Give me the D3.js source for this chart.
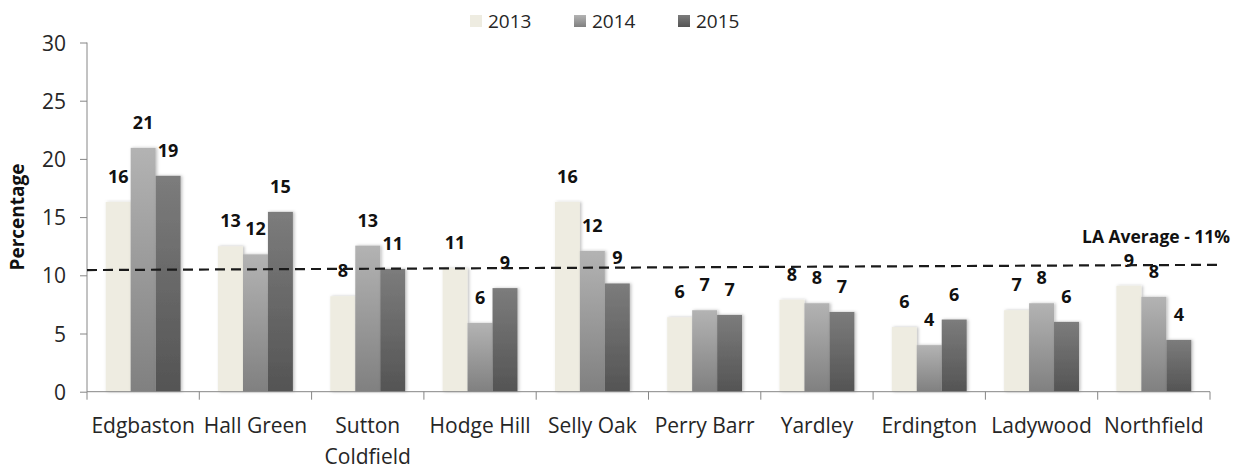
<!DOCTYPE html>
<html>
<head>
<meta charset="utf-8">
<script src="https://cdn.jsdelivr.net/npm/d3@7"></script>
<style>
  html, body { margin: 0; padding: 0; background: #fff; }
  svg { display: block; font-family: "Open Sans", sans-serif; }
</style>
</head>
<body>
<svg id="chart" width="1253" height="470"></svg>
<script>
// Districts and yearly percentages
const categories = ["Edgbaston", "Hall Green", "Sutton Coldfield", "Hodge Hill", "Selly Oak",
                    "Perry Barr", "Yardley", "Erdington", "Ladywood", "Northfield"];
const years = ["2013", "2014", "2015"];
const values2013 = [16.3, 12.5, 8.2, 10.6, 16.3, 6.4, 7.9, 5.55, 7.0, 9.1];
const values2014 = [20.95, 11.8, 12.55, 5.9, 12.1, 7.0, 7.6, 4.0, 7.6, 8.15];
const values2015 = [18.55, 15.45, 10.55, 8.9, 9.3, 6.6, 6.85, 6.2, 6.0, 4.45];
const yTicks = [0, 5, 10, 15, 20, 25, 30];
// Local authority average reference line (start and end level)
const averageLine = [10.45, 10.9];
const averageLabel = "LA Average - 11%";
const yTitle = "Percentage";

const seriesValues = [values2013, values2014, values2015];
const rows = categories.map((c, i) => ({
  category: c,
  values: years.map((yr, j) => ({ year: yr, value: seriesValues[j][i] }))
}));

const svg = d3.select("#chart");
const plotLeft = 87, plotRight = 1210, plotTop = 42.5, plotBottom = 391.7;

const x0 = d3.scaleBand().domain(categories).range([plotLeft, plotRight]).padding(0);
const x1 = d3.scaleBand().domain(years).range([0, x0.bandwidth()])
  .paddingInner(0).paddingOuter(0.75);
const y = d3.scaleLinear().domain([0, 30]).range([plotBottom, plotTop]);

// Fills: flat cream plus two vertical grey gradients
const defs = svg.append("defs");
function gradient(id, c1, c2) {
  const g = defs.append("linearGradient").attr("id", id)
    .attr("x1", 0).attr("y1", 0).attr("x2", 0).attr("y2", 1);
  g.append("stop").attr("offset", "0%").attr("stop-color", c1);
  g.append("stop").attr("offset", "100%").attr("stop-color", c2);
}
gradient("g2014", "#b3b3b3", "#808080");
gradient("g2015", "#7c7c7c", "#545454");
const fills = { "2013": "#eeece1", "2014": "url(#g2014)", "2015": "url(#g2015)" };

const shadow = defs.append("filter").attr("id", "shadow")
  .attr("x", "-30%").attr("y", "-10%").attr("width", "160%").attr("height", "120%");
shadow.append("feDropShadow").attr("dx", 1.5).attr("dy", 0).attr("stdDeviation", 1.8)
  .attr("flood-color", "#000").attr("flood-opacity", 0.25);

// Bars
const groups = svg.append("g").selectAll("g").data(rows).join("g")
  .attr("transform", d => `translate(${x0(d.category)},0)`);

groups.selectAll("rect").data(d => d.values).join("rect")
  .attr("x", d => x1(d.year))
  .attr("y", d => y(d.value))
  .attr("width", x1.bandwidth())
  .attr("height", d => y(0) - y(d.value))
  .attr("fill", d => fills[d.year])
  .attr("filter", "url(#shadow)");

// Axes
const yAxis = d3.axisLeft(y).tickValues(yTicks).tickSize(7).tickPadding(14);
const gy = svg.append("g").attr("transform", `translate(${plotLeft},0)`).call(yAxis);
gy.select(".domain").attr("stroke", "#868686").attr("d", `M0,${y(0)}V${y(30)}`);
gy.selectAll(".tick line").attr("stroke", "#868686");
gy.selectAll(".tick text").attr("fill", "#262626").attr("font-size", 21)
  .attr("font-family", "Open Sans").attr("dy", "0.36em");

const gx = svg.append("g").attr("transform", `translate(0,${y(0)})`);
gx.append("line").attr("x1", plotLeft).attr("x2", plotRight).attr("stroke", "#868686");
const boundaries = categories.map(c => x0(c)).concat([plotRight]);
gx.selectAll("line.tk").data(boundaries).join("line").attr("class", "tk")
  .attr("x1", d => d).attr("x2", d => d).attr("y1", 0).attr("y2", 8)
  .attr("stroke", "#868686");

const xl = gx.selectAll("text").data(categories).join("text")
  .attr("x", d => x0(d) + x0.bandwidth() / 2)
  .attr("y", 41)
  .attr("text-anchor", "middle")
  .attr("font-size", 21)
  .attr("fill", "#262626");
xl.each(function (d) {
  const t = d3.select(this);
  const cx = x0(d) + x0.bandwidth() / 2;
  const words = d.split(" ");
  let line = [];
  let tspan = t.append("tspan").attr("x", cx).attr("dy", 0);
  words.forEach(w => {
    line.push(w);
    tspan.text(line.join(" "));
    if (tspan.node().getComputedTextLength() > x0.step() - 2 && line.length > 1) {
      line.pop();
      tspan.text(line.join(" "));
      line = [w];
      tspan = t.append("tspan").attr("x", cx).attr("dy", 31).text(w);
    }
  });
});

// Average reference line
svg.append("line")
  .attr("x1", plotLeft).attr("x2", 1218)
  .attr("y1", y(averageLine[0])).attr("y2", y(averageLine[1]))
  .attr("stroke", "#1a1a1a").attr("stroke-width", 2.2)
  .attr("stroke-dasharray", "10,6");

svg.append("text")
  .attr("x", 1082).attr("y", 243)
  .attr("font-size", 17.5).attr("font-weight", "bold").attr("fill", "#111")
  .text(averageLabel);

// Value labels
groups.selectAll("text.val").data(d => d.values).join("text").attr("class", "val")
  .attr("x", d => x1(d.year) + x1.bandwidth() / 2)
  .attr("y", d => y(d.value) - 19)
  .attr("text-anchor", "middle")
  .attr("font-size", 18).attr("font-weight", "bold").attr("fill", "#111")
  .text(d => Math.round(d.value));

// Y title
svg.append("text")
  .attr("transform", "translate(24,217) rotate(-90)")
  .attr("text-anchor", "middle")
  .attr("font-size", 19).attr("font-weight", "bold").attr("fill", "#111")
  .text(yTitle);

// Legend
const legendX = [470, 574, 678];
const lg = svg.append("g").selectAll("g").data(years).join("g")
  .attr("transform", (d, i) => `translate(${legendX[i]},15)`);
lg.append("rect").attr("width", 12).attr("height", 12).attr("fill", d => fills[d]);
lg.append("text").attr("x", 18).attr("y", 12.5)
  .attr("font-size", 19).attr("fill", "#262626").text(d => d);
</script>
</body>
</html>
